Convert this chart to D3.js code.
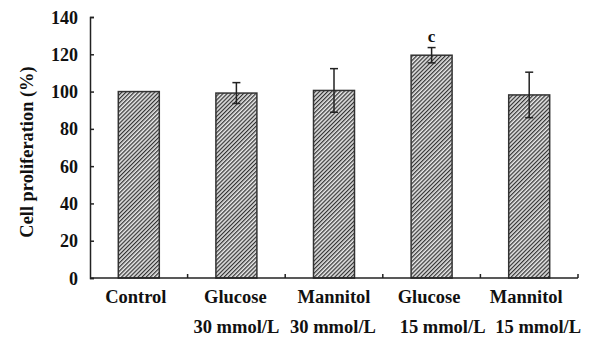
<!DOCTYPE html>
<html>
<head>
<meta charset="utf-8">
<script src="https://cdn.jsdelivr.net/npm/d3@7"></script>
<style>
  body { margin: 0; background: #fff; }
  svg text { font-family: "Liberation Serif", "Times New Roman", serif; font-weight: bold; fill: #111; }
</style>
</head>
<body>
<svg id="chart"></svg>
<script>
const groups = ["Control", "Glucose", "Mannitol", "Glucose", "Mannitol"];
const doses = ["", "30 mmol/L", "30 mmol/L", "15 mmol/L", "15 mmol/L"];
const means = [100, 99.2, 100.6, 119.5, 98.2];
const errs = [0, 5.6, 11.7, 4.1, 12.2];
const marks = ["", "", "", "c", ""];
const yTicks = [0, 20, 40, 60, 80, 100, 120, 140];

const width = 589;
const height = 338;
const margin = { top: 17, right: 11, bottom: 60, left: 90 };

const svg = d3.select("#chart").attr("width", width).attr("height", height);

// hatch pattern
const pat = svg.append("defs").append("pattern")
  .attr("id", "hatch")
  .attr("patternUnits", "userSpaceOnUse")
  .attr("width", 2.9).attr("height", 4)
  .attr("patternTransform", "rotate(45)");
pat.append("rect").attr("width", 2.9).attr("height", 4).attr("fill", "#e8e8e8");
pat.append("rect").attr("x", 0).attr("width", 1.25).attr("height", 4).attr("fill", "#333");

const x = d3.scaleBand()
  .domain(d3.range(groups.length))
  .range([margin.left, width - margin.right])
  .paddingInner(0.58)
  .paddingOuter(0.29);

const y = d3.scaleLinear()
  .domain([0, 140])
  .range([height - margin.bottom, margin.top]);

// bars
svg.selectAll("rect.bar")
  .data(means)
  .join("rect")
  .attr("class", "bar")
  .attr("x", (_, i) => x(i))
  .attr("y", d => y(d))
  .attr("width", x.bandwidth())
  .attr("height", d => y(0) - y(d))
  .attr("fill", "url(#hatch)")
  .attr("stroke", "#333")
  .attr("stroke-width", 1.5);

// error bars
const eb = svg.append("g").attr("stroke", "#222").attr("stroke-width", 1.5);
means.forEach((m, i) => {
  if (!errs[i]) return;
  const cx = x(i) + x.bandwidth() / 2;
  eb.append("line").attr("x1", cx).attr("x2", cx).attr("y1", y(m + errs[i])).attr("y2", y(m - errs[i]));
  [m + errs[i], m - errs[i]].forEach(v => {
    eb.append("line").attr("x1", cx - 4).attr("x2", cx + 4).attr("y1", y(v)).attr("y2", y(v));
  });
  if (marks[i]) {
    svg.append("text")
      .attr("x", cx).attr("y", y(m + errs[i]) - 6)
      .attr("text-anchor", "middle").attr("font-size", 17)
      .text(marks[i]);
  }
});

// y axis
const yAxis = svg.append("g")
  .attr("transform", `translate(${margin.left},0)`)
  .call(d3.axisLeft(y).tickValues(yTicks).tickSize(-4).tickPadding(12));
yAxis.selectAll("text").attr("font-size", 18).attr("font-family", null).attr("dy", "0.34em");
yAxis.select(".domain").attr("stroke", "#222").attr("stroke-width", 1.5);
yAxis.selectAll(".tick line").attr("stroke", "#222").attr("stroke-width", 1.5);

// x axis
const xAxis = svg.append("g")
  .attr("transform", `translate(0,${y(0)})`);
xAxis.append("line")
  .attr("x1", margin.left).attr("x2", width - margin.right)
  .attr("stroke", "#222").attr("stroke-width", 1.5);
xAxis.selectAll("line.tk")
  .data(d3.range(1, groups.length + 1))
  .join("line")
  .attr("class", "tk")
  .attr("x1", i => x(i - 1) + x.bandwidth() / 2 + x.step() / 2)
  .attr("x2", i => x(i - 1) + x.bandwidth() / 2 + x.step() / 2)
  .attr("y1", 0).attr("y2", -4)
  .attr("stroke", "#222").attr("stroke-width", 1.5);

const g1Shift = [-3, -1, 0, -2.5, -3];
const g2Shift = [0, 0, -1, 11, 9];

svg.selectAll("text.g1")
  .data(groups)
  .join("text")
  .attr("class", "g1")
  .attr("x", (_, i) => x(i) + x.bandwidth() / 2 + g1Shift[i])
  .attr("y", 303)
  .attr("text-anchor", "middle")
  .attr("font-size", 18.5)
  .text(d => d);

svg.selectAll("text.g2")
  .data(doses)
  .join("text")
  .attr("class", "g2")
  .attr("x", (_, i) => x(i) + x.bandwidth() / 2 + g2Shift[i])
  .attr("y", 333)
  .attr("text-anchor", "middle")
  .attr("font-size", 18.5)
  .text(d => d);

// y title
svg.append("text")
  .attr("transform", `translate(33,152) rotate(-90)`)
  .attr("text-anchor", "middle")
  .attr("font-size", 18.4)
  .text("Cell proliferation (%)");
</script>
</body>
</html>
